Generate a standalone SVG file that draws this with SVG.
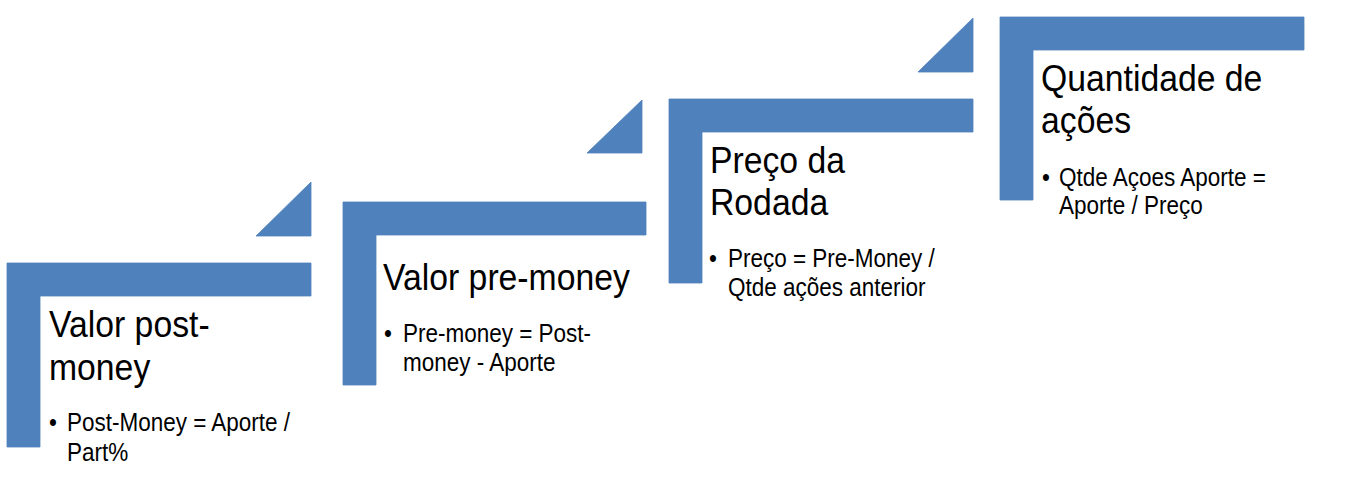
<svg xmlns="http://www.w3.org/2000/svg" width="1346" height="495" viewBox="0 0 1346 495">
<style>
.step{fill:#4F81BD;stroke:#4F81BD;stroke-width:0.8;stroke-linejoin:round}
.arr{fill:#4F81BD;stroke:#4F81BD;stroke-width:0.8;stroke-linejoin:round}
.t{font-family:"Liberation Sans",Arial,sans-serif;font-size:37.5px;fill:#000}
.b{font-family:"Liberation Sans",Arial,sans-serif;font-size:25px;fill:#000}
</style>
<rect width="1346" height="495" fill="#ffffff"/>
<g id="connectors">
<path class="arr" d="M256 236 L311 182 L311 236 Z"/>
<path class="arr" d="M587 153 L642 100 L642 153 Z"/>
<path class="arr" d="M918 72 L973 18 L973 72 Z"/>
</g>
<g id="node-post-money">
<path class="step" d="M7 263 H311 V296 H40 V447 H7 Z"/>
<text class="t" transform="translate(49 337) scale(0.9 1)"><tspan x="0" y="0">Valor post-</tspan><tspan x="0" y="43">money</tspan></text>
<text class="b" transform="translate(49 431) scale(0.9 1)"><tspan x="0" y="0">•</tspan></text>
<text class="b" transform="translate(67 431) scale(0.9 1)"><tspan x="0" y="0">Post-Money = Aporte /</tspan><tspan x="0" y="30">Part%</tspan></text>
</g>
<g id="node-pre-money">
<path class="step" d="M343 202 H646 V235 H376 V385 H343 Z"/>
<text class="t" transform="translate(383 290) scale(0.9 1)">Valor pre-money</text>
<text class="b" transform="translate(384 342) scale(0.9 1)">•</text>
<text class="b" transform="translate(403 342) scale(0.9 1)"><tspan x="0" y="0">Pre-money = Post-</tspan><tspan x="0" y="29">money - Aporte</tspan></text>
</g>
<g id="node-preco">
<path class="step" d="M669 99 H973 V132 H702 V283 H669 Z"/>
<text class="t" transform="translate(710 173) scale(0.9 1)"><tspan x="0" y="0">Preço da</tspan><tspan x="0" y="42">Rodada</tspan></text>
<text class="b" transform="translate(709 267) scale(0.9 1)">•</text>
<text class="b" transform="translate(728 267) scale(0.9 1)"><tspan x="0" y="0">Preço = Pre-Money /</tspan><tspan x="0" y="29">Qtde ações anterior</tspan></text>
</g>
<g id="node-quantidade">
<path class="step" d="M1000 17 H1304 V50 H1033 V200 H1000 Z"/>
<text class="t" transform="translate(1041 91) scale(0.9 1)"><tspan x="0" y="0">Quantidade de</tspan><tspan x="0" y="42">ações</tspan></text>
<text class="b" transform="translate(1042 186) scale(0.9 1)">•</text>
<text class="b" transform="translate(1059 186) scale(0.9 1)"><tspan x="0" y="0">Qtde Açoes Aporte =</tspan><tspan x="0" y="28">Aporte / Preço</tspan></text>
</g>
</svg>
